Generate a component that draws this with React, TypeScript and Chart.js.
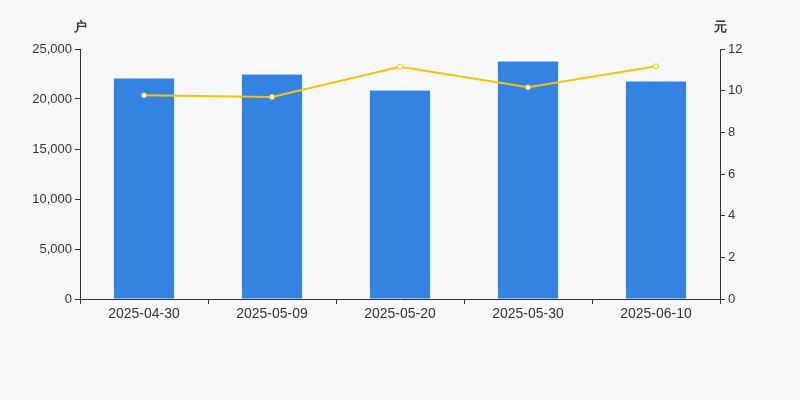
import React, { useEffect, useRef } from "react";
import { Chart, registerables } from "chart.js";

Chart.register(...registerables);

const categories = ["2025-04-30", "2025-05-09", "2025-05-20", "2025-05-30", "2025-06-10"];
const holders = [22050, 22450, 20850, 23750, 21750];
const prices = [9.78, 9.7, 11.15, 10.16, 11.17];
const leftTitle = "户";
const rightTitle = "元";

const FONT = "'Liberation Sans', Arial, sans-serif";
const AXIS = "#333333";

export default function App() {
  const ref = useRef<HTMLCanvasElement | null>(null);
  useEffect(() => {
    document.body.style.margin = "0";
    document.body.style.background = "#f8f8f8";
    const titles = {
      id: "titles",
      afterDraw(chart: any) {
        const { ctx, chartArea } = chart;
        ctx.save();
        ctx.fillStyle = AXIS;
        ctx.font = `bold 13px ${FONT}`;
        ctx.textAlign = "center";
        ctx.textBaseline = "middle";
        ctx.fillText(leftTitle, chartArea.left, chartArea.top - 22);
        ctx.fillText(rightTitle, chartArea.right, chartArea.top - 22);
        ctx.restore();
      },
    };
    const chart = new Chart(ref.current as HTMLCanvasElement, {
      type: "bar",
      data: {
        labels: categories,
        datasets: [
          {
            type: "line",
            data: prices,
            yAxisID: "y1",
            borderColor: "#f5c30c",
            borderWidth: 2,
            backgroundColor: "#ffffff",
            pointBackgroundColor: "#ffffff",
            pointBorderColor: "#f5c30c",
            pointBorderWidth: 1,
            pointRadius: 2.5,
            tension: 0,
            order: 0,
          } as any,
          {
            type: "bar",
            data: holders,
            yAxisID: "y",
            backgroundColor: "#3483e2",
            categoryPercentage: 1,
            barPercentage: 0.47,
            order: 1,
          },
        ],
      },
      options: {
        animation: false,
        responsive: false,
        layout: { padding: { top: 49, left: 0, right: 0, bottom: 0 } },
        plugins: { legend: { display: false }, tooltip: { enabled: false } },
        scales: {
          x: {
            offset: true,
            grid: { offset: true, drawOnChartArea: false, drawTicks: true, tickLength: 5, color: AXIS },
            border: { color: AXIS },
            ticks: { color: AXIS, font: { family: FONT, size: 14 }, padding: 2, maxRotation: 0 },
            afterFit: (s: any) => { s.height = 101; },
          },
          y: {
            position: "left",
            min: 0,
            max: 25000,
            grid: { drawOnChartArea: false, drawTicks: true, tickLength: 5, color: AXIS },
            border: { color: AXIS },
            ticks: {
              stepSize: 5000,
              color: AXIS,
              font: { family: FONT, size: 13 },
              padding: 3,
              callback: (v: any) => Number(v).toLocaleString("en-US"),
            },
            afterFit: (s: any) => { s.width = 80; },
          },
          y1: {
            position: "right",
            min: 0,
            max: 12,
            grid: { drawOnChartArea: false, drawTicks: true, tickLength: 5, color: AXIS },
            border: { color: AXIS },
            ticks: { stepSize: 2, color: AXIS, font: { family: FONT, size: 13 }, padding: 3 },
            afterFit: (s: any) => { s.width = 80; },
          },
        },
      },
      plugins: [titles],
    });
    return () => chart.destroy();
  }, []);
  return (
    <div style={{ width: 800, height: 400, background: "#f8f8f8" }}>
      <canvas ref={ref} width={800} height={400} style={{ display: "block" }} />
    </div>
  );
}
